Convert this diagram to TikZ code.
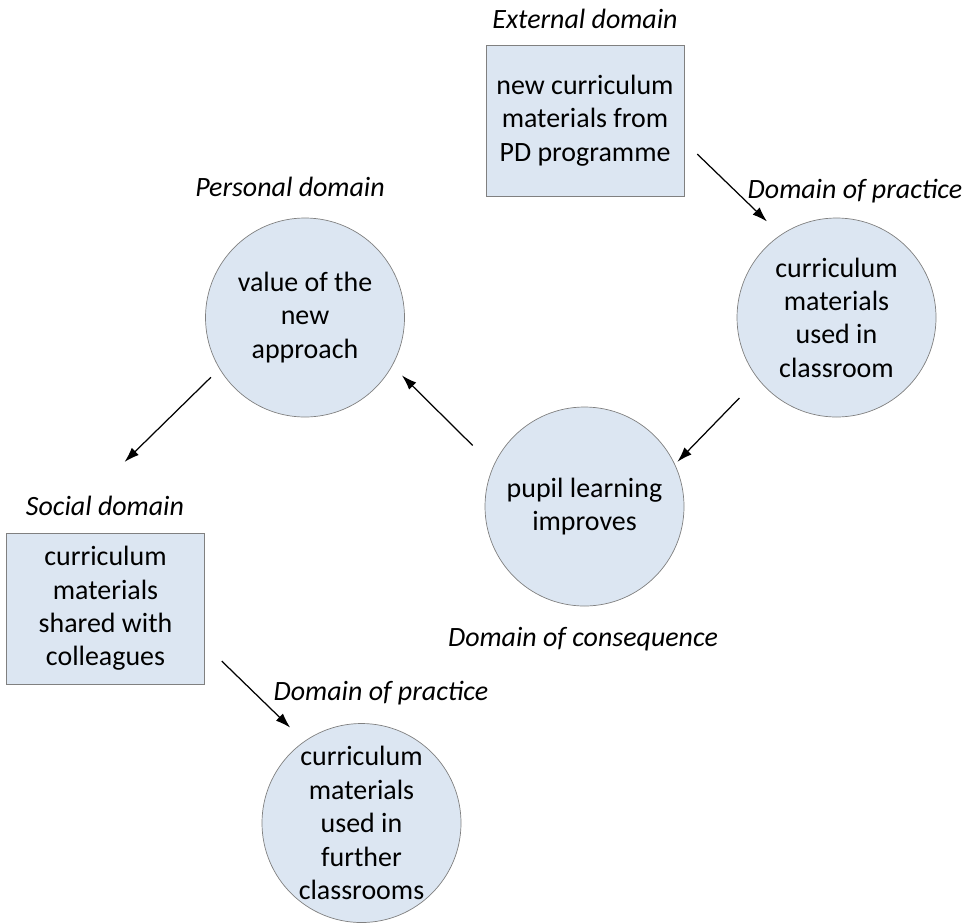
\documentclass[tikz,border=0pt]{standalone}
\usepackage{fontspec}
\setmainfont{Carlito}
\usetikzlibrary{arrows.meta}
\definecolor{paleblue}{RGB}{220,230,242}

\begin{document}
\begin{tikzpicture}[font=\fontsize{15.9}{19}\selectfont,
  box/.style={draw=gray,fill=paleblue,align=center,inner sep=0pt,
    minimum width=3.96cm,minimum height=3.02cm},
  disc/.style={circle,draw=gray,fill=paleblue,align=center,inner sep=0pt,
    minimum size=3.98cm},
  dom/.style={anchor=base,font=\fontsize{15.9}{19}\selectfont\itshape},
  arr/.style={-{Latex[length=3mm,width=2mm]},line width=0.7pt}]
  \useasboundingbox (0,0) rectangle (19.44,-18.44);
  % Where the materials come from, and their first use.
  \node[dom] (lext) at (11.70,-0.56) {External domain};
  \node[box] (ext) at (11.70,-2.41) {new curriculum\\materials from\\PD programme};
  \node[dom] (lprac) at (17.10,-3.96) {Domain of practice};
  \node[disc] (used) at (16.73,-6.35) {curriculum\\materials\\used in\\classroom};
  % The loop back through the pupils to the teacher.
  \node[disc] (pupil) at (11.69,-10.13) {pupil learning\\improves};
  \node[dom] (lcons) at (11.66,-12.92) {Domain of consequence};
  \node[dom] (lpers) at (5.80,-3.92) {Personal domain};
  \node[disc] (value) at (6.10,-6.35) {value of the\\new\\approach};
  % Passed on to colleagues.
  \node[dom] (lsoc) at (2.10,-10.30) {Social domain};
  \node[box] (shared) at (2.11,-12.17) {curriculum\\materials\\shared with\\colleagues};
  \node[dom] (lprac2) at (7.62,-14.00) {Domain of practice};
  \node[disc] (further) at (7.23,-16.46) {curriculum\\materials\\used in\\further\\classrooms};
  \draw[arr,shorten <=0.36cm,shorten >=0.38cm] (ext.-12) -- (used.124);
  \draw[arr,shorten <=0.53cm,shorten >=0.07cm] (used.218) -- (pupil.25);
  \draw[arr,shorten <=0.58cm,shorten >=0.27cm] (pupil.156) -- (value.-29);
  \draw[arr,shorten <=0.24cm,shorten >=2.02cm] (value.211) -- (shared.125);
  \draw[arr,shorten <=0.47cm,shorten >=0.39cm] (shared.-20) -- (further.125);
\end{tikzpicture}
\end{document}
